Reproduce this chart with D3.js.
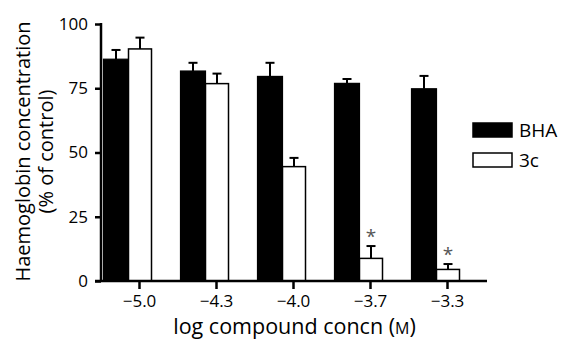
<!DOCTYPE html>
<html>
<head>
<meta charset="utf-8">
<script src="https://cdn.jsdelivr.net/npm/d3@7"></script>
<style>
  html, body { margin: 0; padding: 0; background: #fff; }
  svg { display: block; font-family: "Open Sans", "Noto Sans", sans-serif; }
</style>
</head>
<body>
<svg id="chart" width="563" height="341"></svg>
<script>
const categories = ["−5.0", "−4.3", "−4.0", "−3.7", "−3.3"];
const bhaValues = [86.3, 81.7, 79.6, 76.9, 74.8];
const bhaErrors = [3.6, 3.2, 5.3, 1.7, 5.0];
const c3Values = [90.3, 76.8, 44.5, 8.8, 4.5];
const c3Errors = [4.4, 3.9, 3.4, 4.8, 2.1];
const significant = [false, false, false, true, true];
const yTicks = [0, 25, 50, 75, 100];
const seriesNames = ["BHA", "3c"];

const svg = d3.select("#chart");

const x = d3.scaleBand().domain(categories).range([101, 486]).padding(0);
const y = d3.scaleLinear().domain([0, 100]).range([281, 24]);

const center = c => x(c) + x.bandwidth() / 2;
const whiteW = 23, blackW = 25;

// Bars: BHA (black)
svg.append("g").selectAll("rect")
  .data(categories.map((c, i) => ({c, v: bhaValues[i]})))
  .join("rect")
  .attr("x", d => center(d.c) - 11 - blackW)
  .attr("width", blackW)
  .attr("y", d => y(d.v))
  .attr("height", d => y(0) - y(d.v))
  .attr("fill", "#000").attr("stroke", "#000").attr("stroke-width", 1.2);

// Bars: 3c (white)
svg.append("g").selectAll("rect")
  .data(categories.map((c, i) => ({c, v: c3Values[i]})))
  .join("rect")
  .attr("x", d => center(d.c) - 11)
  .attr("width", whiteW)
  .attr("y", d => y(d.v))
  .attr("height", d => y(0) - y(d.v))
  .attr("fill", "#fff").attr("stroke", "#000").attr("stroke-width", 1.5);

// Error bars
function errBars(vals, errs, xc) {
  const g = svg.append("g").attr("stroke", "#000").attr("stroke-width", 2);
  categories.forEach((c, i) => {
    const cx = xc(c);
    g.append("line").attr("x1", cx).attr("x2", cx).attr("y1", y(vals[i])).attr("y2", y(vals[i] + errs[i]));
    g.append("line").attr("x1", cx - 4.5).attr("x2", cx + 4.5).attr("y1", y(vals[i] + errs[i])).attr("y2", y(vals[i] + errs[i]));
  });
}
errBars(bhaValues, bhaErrors, c => center(c) - 11 - blackW / 2);
errBars(c3Values, c3Errors, c => center(c) - 11 + whiteW / 2);

// Asterisks
svg.append("g").selectAll("text")
  .data(categories.map((c, i) => ({c, sig: significant[i], top: c3Values[i] + c3Errors[i]})).filter(d => d.sig))
  .join("text")
  .attr("x", d => center(d.c) - 11 + whiteW / 2)
  .attr("y", d => y(d.top) - 3)
  .attr("text-anchor", "middle")
  .attr("font-size", 19)
  .attr("fill", "#555")
  .text("*");

// Y axis
const yAxis = svg.append("g").attr("transform", "translate(101,0)")
  .call(d3.axisLeft(y).tickValues(yTicks).tickSize(6).tickPadding(7).tickSizeOuter(0));
yAxis.select(".domain").attr("stroke-width", 2.5).attr("d", `M0,${y(0)}V${y(100) - 1}`);
yAxis.selectAll(".tick line").attr("stroke-width", 2.5);
yAxis.selectAll(".tick text").attr("font-size", 17).attr("font-family", "Open Sans, sans-serif").attr("fill", "#000");

// X axis
const xAxis = svg.append("g").attr("transform", `translate(0,${y(0)})`)
  .call(d3.axisBottom(x).tickSize(8).tickPadding(6).tickSizeOuter(0));
xAxis.select(".domain").attr("stroke-width", 2.5).attr("d", "M95,0H487");
xAxis.selectAll(".tick line").attr("stroke-width", 2.5);
xAxis.selectAll(".tick text").attr("font-size", 17).attr("font-family", "Open Sans, sans-serif").attr("fill", "#000");

// Axis titles
const xt = svg.append("text").attr("x", 294.5).attr("y", 334).attr("text-anchor", "middle")
  .attr("font-size", 21.5).attr("fill", "#000");
xt.append("tspan").text("log compound concn (");
xt.append("tspan").attr("font-size", 16).text("M");
xt.append("tspan").text(")");

const yt = svg.append("text").attr("transform", "translate(29.5,151.5) rotate(-90)")
  .attr("text-anchor", "middle").attr("font-size", 20).attr("fill", "#000");
yt.append("tspan").attr("x", 0).attr("y", 0).text("Haemoglobin concentration");
yt.append("tspan").attr("x", 0).attr("y", 23).text("(% of control)");

// Legend
const legend = svg.append("g").attr("transform", "translate(473,123)");
const fills = ["#000", "#fff"];
seriesNames.forEach((name, i) => {
  const g = legend.append("g").attr("transform", `translate(0,${i * 30})`);
  g.append("rect").attr("x", 0).attr("y", 0).attr("width", 39).attr("height", 14)
    .attr("fill", fills[i]).attr("stroke", "#000").attr("stroke-width", 1.5);
  g.append("text").attr("x", 46).attr("y", 14).attr("font-size", 19).attr("fill", "#000").text(name);
});
</script>
</body>
</html>
